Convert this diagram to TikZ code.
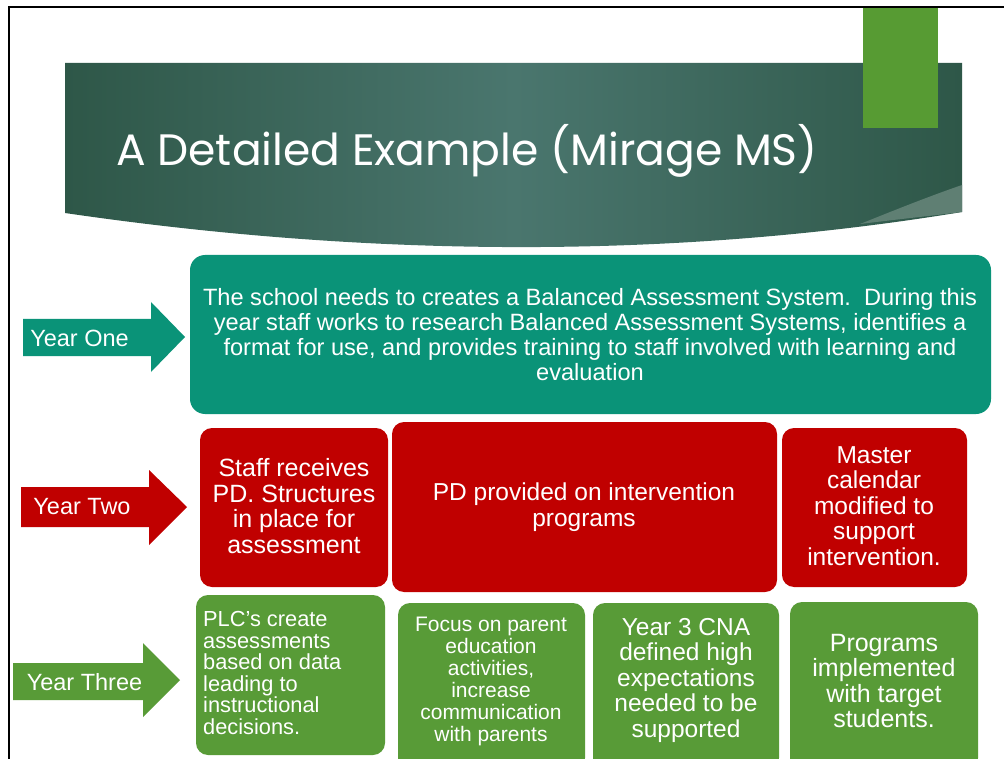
\documentclass[tikz,border=0pt]{standalone}
\usepackage{fontspec}
\setmainfont{Liberation Sans}
\newfontfamily\titlefont{Poppins}
\definecolor{teal1}{HTML}{0A9378}
\definecolor{red1}{HTML}{C00000}
\definecolor{green1}{HTML}{589B37}
\definecolor{green2}{HTML}{579B33}
\definecolor{bandark}{HTML}{2E5748}
\definecolor{banmid}{HTML}{4A766E}
\definecolor{swoosh}{HTML}{5F7F73}
\begin{document}
\begin{tikzpicture}[x=1pt,y=-1pt,
  boxtxt/.style={text=white,align=center,inner sep=0pt},
  tealbox/.style={fill=teal1,rounded corners=15pt},
  redbox/.style={fill=red1,rounded corners=12pt},
  greenbox/.style={fill=green1,rounded corners=12pt},
  yearlbl/.style={text=white,inner sep=0pt,font=\fontsize{23.5}{26}\selectfont}]
\useasboundingbox (0,0) rectangle (1004,759);
\clip (0,0) rectangle (1004,759);
\fill[white] (0,0) rectangle (1004,759);
% title banner
\shade[left color=bandark,right color=bandark,middle color=banmid]
  (65,63) -- (962,63) -- (962,212)
  .. controls (700,255) and (400,262) .. (65,213) -- cycle;
\fill[swoosh] (962,185) -- (962,212) .. controls (930,216) and (900,219) .. (860,224)
  .. controls (900,208) and (930,196) .. (962,185) -- cycle;
\fill[green2] (863,8) rectangle (938,128);
\node[anchor=base west,inner sep=0pt,text=white,font=\titlefont\fontsize{44}{50}\selectfont]
  (title) at (116,166) {A Detailed Example (Mirage MS)};
% frame
\draw[line width=2.7pt] (9,759) -- (9,7) -- (1004,7);
% year one
\fill[teal1] (23,319) -- (151,319) -- (151,302) -- (185,337) -- (151,372) -- (151,356) -- (23,356) -- cycle;
\node[yearlbl] (y1) at (79.5,338) {Year One};
\fill[tealbox] (190,255) rectangle (991,414);
\node[boxtxt,font=\fontsize{23.6}{25}\selectfont] (t1) at (590,334.5)
  {The school needs to creates a Balanced Assessment System.\ \ During this\\
   year staff works to research Balanced Assessment Systems, identifies a\\
   format for use, and provides training to staff involved with learning and\\
   evaluation};
% year two
\fill[red1] (21,487) -- (149,487) -- (149,470) -- (187,507) -- (149,545) -- (149,527) -- (21,527) -- cycle;
\node[yearlbl] (y2) at (82,507) {Year Two};
\fill[redbox] (200,428) rectangle (388,587);
\fill[redbox] (392,422) rectangle (777,592);
\fill[redbox] (782,428) rectangle (967,587);
\node[boxtxt,font=\fontsize{25}{25.5}\selectfont] (r1) at (294,506)
  {Staff receives\\PD. Structures\\in place for\\assessment};
\node[boxtxt,font=\fontsize{24.5}{26}\selectfont] (r2) at (584,507)
  {PD provided on intervention\\programs};
\node[boxtxt,font=\fontsize{24.5}{25.5}\selectfont] (r3) at (874,506)
  {Master\\calendar\\modified to\\support\\intervention.};
% year three
\fill[green1] (13,663) -- (143,663) -- (143,643) -- (180,680) -- (143,717) -- (143,700) -- (13,700) -- cycle;
\node[yearlbl] (y3) at (84.5,682) {Year Three};
\fill[greenbox] (196,595) rectangle (385,755);
\fill[greenbox] (398,603) rectangle (585,770);
\fill[greenbox] (593,603) rectangle (779,770);
\fill[greenbox] (790,602) rectangle (978,770);
\node[boxtxt,align=left,anchor=west,font=\fontsize{21.8}{21.6}\selectfont] (g1) at (203,673)
  {PLC's create\\assessments\\based on data\\leading to\\instructional\\decisions.};
\node[boxtxt,font=\fontsize{21}{22}\selectfont] (g2) at (491,681)
  {Focus on parent\\education\\activities,\\increase\\communication\\with parents};
\node[boxtxt,font=\fontsize{24.5}{25.5}\selectfont] (g3) at (686,680)
  {Year 3 CNA\\defined high\\expectations\\needed to be\\supported};
\node[boxtxt,font=\fontsize{25}{25.5}\selectfont] (g4) at (884,681)
  {Programs\\implemented\\with target\\students.};
\end{tikzpicture}
\end{document}
